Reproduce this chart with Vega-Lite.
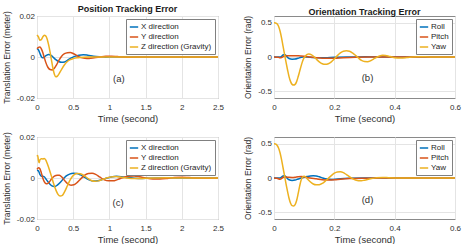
{
  "$schema": "https://vega.github.io/schema/vega-lite/v6.json",
  "background": "white",
  "padding": {"left": 1, "top": 4, "right": 2, "bottom": 0},
  "config": {
    "font": "Liberation Sans",
    "view": {"stroke": "#8a8a8a", "strokeWidth": 1},
    "axis": {"grid": true, "gridColor": "#e4e4e4", "gridWidth": 1, "domain": false, "ticks": false, "tickCount": 10, "labelFontSize": 8, "labelColor": "#303030", "titleFontSize": 9.5, "titleFontWeight": "normal", "titleColor": "#303030", "labelPadding": 2.5, "titlePadding": 5, "labelFlush": false, "labelOverlap": false, "labelExpr": "datum.value < 0 ? '-' + format(-datum.value, '~g') : format(datum.value, '~g')"},
    "axisX": {"labelPadding": 5, "titlePadding": 2},
    "axisY": {"titleFontSize": 8.5},
    "title": {"fontSize": 9, "fontWeight": "bold", "color": "#1a1a1a", "anchor": "middle", "frame": "group"},
    "legend": {"orient": "top-right", "offset": 3, "fillColor": "white", "strokeColor": "#808080", "padding": 3, "labelFontSize": 8, "labelColor": "#262626", "symbolType": "stroke", "symbolSize": 70, "symbolStrokeWidth": 2, "rowPadding": 1, "labelOffset": 2},
    "line": {"strokeWidth": 1.5, "interpolate": "monotone"}
  },
  "datasets": {
    "a": [
      {"t":0,"v":0.004,"s":"X direction"},{"t":0.02,"v":0.0035,"s":"X direction"},{"t":0.04,"v":0.0018,"s":"X direction"},{"t":0.06,"v":0.0002,"s":"X direction"},{"t":0.08,"v":-0.0004,"s":"X direction"},{"t":0.1,"v":0,"s":"X direction"},{"t":0.13,"v":0.0008,"s":"X direction"},{"t":0.16,"v":0.0012,"s":"X direction"},{"t":0.19,"v":0.0009,"s":"X direction"},{"t":0.22,"v":0,"s":"X direction"},{"t":0.26,"v":-0.0013,"s":"X direction"},{"t":0.3,"v":-0.0022,"s":"X direction"},{"t":0.34,"v":-0.0026,"s":"X direction"},{"t":0.38,"v":-0.0024,"s":"X direction"},{"t":0.42,"v":-0.0016,"s":"X direction"},{"t":0.46,"v":-0.0007,"s":"X direction"},{"t":0.52,"v":0.0003,"s":"X direction"},{"t":0.58,"v":0.0009,"s":"X direction"},{"t":0.64,"v":0.0011,"s":"X direction"},{"t":0.7,"v":0.0009,"s":"X direction"},{"t":0.78,"v":0.0004,"s":"X direction"},{"t":0.86,"v":0.0001,"s":"X direction"},{"t":0.95,"v":-0.0001,"s":"X direction"},{"t":1.05,"v":0,"s":"X direction"},{"t":1.2,"v":0,"s":"X direction"},{"t":2.5,"v":0,"s":"X direction"},
      {"t":0,"v":0.004,"s":"Y direction"},{"t":0.02,"v":0.0047,"s":"Y direction"},{"t":0.04,"v":0.0049,"s":"Y direction"},{"t":0.06,"v":0.004,"s":"Y direction"},{"t":0.08,"v":0.0022,"s":"Y direction"},{"t":0.1,"v":-0.0002,"s":"Y direction"},{"t":0.12,"v":-0.0025,"s":"Y direction"},{"t":0.15,"v":-0.005,"s":"Y direction"},{"t":0.18,"v":-0.0061,"s":"Y direction"},{"t":0.21,"v":-0.0063,"s":"Y direction"},{"t":0.24,"v":-0.0055,"s":"Y direction"},{"t":0.27,"v":-0.0038,"s":"Y direction"},{"t":0.3,"v":-0.0018,"s":"Y direction"},{"t":0.34,"v":0.0004,"s":"Y direction"},{"t":0.38,"v":0.0016,"s":"Y direction"},{"t":0.42,"v":0.0021,"s":"Y direction"},{"t":0.46,"v":0.0022,"s":"Y direction"},{"t":0.5,"v":0.0017,"s":"Y direction"},{"t":0.55,"v":0.0007,"s":"Y direction"},{"t":0.6,"v":-0.0002,"s":"Y direction"},{"t":0.66,"v":-0.0006,"s":"Y direction"},{"t":0.72,"v":-0.0007,"s":"Y direction"},{"t":0.79,"v":-0.0004,"s":"Y direction"},{"t":0.87,"v":0,"s":"Y direction"},{"t":0.95,"v":0.0004,"s":"Y direction"},{"t":1.03,"v":0.0004,"s":"Y direction"},{"t":1.11,"v":0.0002,"s":"Y direction"},{"t":1.2,"v":0,"s":"Y direction"},{"t":1.3,"v":-0.0001,"s":"Y direction"},{"t":1.45,"v":0,"s":"Y direction"},{"t":2.5,"v":0,"s":"Y direction"},
      {"t":0,"v":0.0107,"s":"Z direction (Gravity)"},{"t":0.02,"v":0.0098,"s":"Z direction (Gravity)"},{"t":0.04,"v":0.0082,"s":"Z direction (Gravity)"},{"t":0.06,"v":0.0085,"s":"Z direction (Gravity)"},{"t":0.08,"v":0.0098,"s":"Z direction (Gravity)"},{"t":0.1,"v":0.0106,"s":"Z direction (Gravity)"},{"t":0.12,"v":0.0103,"s":"Z direction (Gravity)"},{"t":0.14,"v":0.0088,"s":"Z direction (Gravity)"},{"t":0.16,"v":0.006,"s":"Z direction (Gravity)"},{"t":0.18,"v":0.0025,"s":"Z direction (Gravity)"},{"t":0.2,"v":-0.0015,"s":"Z direction (Gravity)"},{"t":0.22,"v":-0.0055,"s":"Z direction (Gravity)"},{"t":0.24,"v":-0.0084,"s":"Z direction (Gravity)"},{"t":0.26,"v":-0.0096,"s":"Z direction (Gravity)"},{"t":0.28,"v":-0.0094,"s":"Z direction (Gravity)"},{"t":0.3,"v":-0.0085,"s":"Z direction (Gravity)"},{"t":0.34,"v":-0.006,"s":"Z direction (Gravity)"},{"t":0.38,"v":-0.0038,"s":"Z direction (Gravity)"},{"t":0.42,"v":-0.0022,"s":"Z direction (Gravity)"},{"t":0.46,"v":-0.0013,"s":"Z direction (Gravity)"},{"t":0.5,"v":-0.0008,"s":"Z direction (Gravity)"},{"t":0.55,"v":-0.0004,"s":"Z direction (Gravity)"},{"t":0.6,"v":-0.0002,"s":"Z direction (Gravity)"},{"t":0.7,"v":0,"s":"Z direction (Gravity)"},{"t":1.0,"v":0,"s":"Z direction (Gravity)"},{"t":2.5,"v":0,"s":"Z direction (Gravity)"}
    ],
    "b": [
      {"t":0,"v":0,"s":"Roll"},{"t":0.02,"v":0,"s":"Roll"},{"t":0.025,"v":0.01,"s":"Roll"},{"t":0.03,"v":0.03,"s":"Roll"},{"t":0.035,"v":0.035,"s":"Roll"},{"t":0.04,"v":0.02,"s":"Roll"},{"t":0.045,"v":-0.005,"s":"Roll"},{"t":0.05,"v":-0.022,"s":"Roll"},{"t":0.06,"v":-0.032,"s":"Roll"},{"t":0.07,"v":-0.03,"s":"Roll"},{"t":0.08,"v":-0.018,"s":"Roll"},{"t":0.09,"v":-0.005,"s":"Roll"},{"t":0.1,"v":0.002,"s":"Roll"},{"t":0.11,"v":0,"s":"Roll"},{"t":0.13,"v":-0.008,"s":"Roll"},{"t":0.15,"v":-0.012,"s":"Roll"},{"t":0.17,"v":-0.01,"s":"Roll"},{"t":0.2,"v":-0.004,"s":"Roll"},{"t":0.25,"v":0,"s":"Roll"},{"t":0.3,"v":0.002,"s":"Roll"},{"t":0.4,"v":0,"s":"Roll"},{"t":0.6,"v":0,"s":"Roll"},
      {"t":0,"v":0,"s":"Pitch"},{"t":0.015,"v":-0.005,"s":"Pitch"},{"t":0.02,"v":-0.012,"s":"Pitch"},{"t":0.025,"v":-0.008,"s":"Pitch"},{"t":0.03,"v":0.005,"s":"Pitch"},{"t":0.04,"v":0.018,"s":"Pitch"},{"t":0.06,"v":0.02,"s":"Pitch"},{"t":0.08,"v":0.017,"s":"Pitch"},{"t":0.1,"v":0.01,"s":"Pitch"},{"t":0.12,"v":0,"s":"Pitch"},{"t":0.14,"v":-0.01,"s":"Pitch"},{"t":0.16,"v":-0.018,"s":"Pitch"},{"t":0.18,"v":-0.02,"s":"Pitch"},{"t":0.2,"v":-0.017,"s":"Pitch"},{"t":0.23,"v":-0.01,"s":"Pitch"},{"t":0.27,"v":-0.003,"s":"Pitch"},{"t":0.32,"v":0,"s":"Pitch"},{"t":0.6,"v":0,"s":"Pitch"},
      {"t":0,"v":0.5,"s":"Yaw"},{"t":0.005,"v":0.497,"s":"Yaw"},{"t":0.01,"v":0.485,"s":"Yaw"},{"t":0.015,"v":0.45,"s":"Yaw"},{"t":0.02,"v":0.38,"s":"Yaw"},{"t":0.025,"v":0.28,"s":"Yaw"},{"t":0.03,"v":0.16,"s":"Yaw"},{"t":0.035,"v":0.04,"s":"Yaw"},{"t":0.04,"v":-0.08,"s":"Yaw"},{"t":0.045,"v":-0.19,"s":"Yaw"},{"t":0.05,"v":-0.29,"s":"Yaw"},{"t":0.055,"v":-0.36,"s":"Yaw"},{"t":0.06,"v":-0.4,"s":"Yaw"},{"t":0.065,"v":-0.41,"s":"Yaw"},{"t":0.07,"v":-0.4,"s":"Yaw"},{"t":0.075,"v":-0.36,"s":"Yaw"},{"t":0.08,"v":-0.29,"s":"Yaw"},{"t":0.085,"v":-0.21,"s":"Yaw"},{"t":0.09,"v":-0.13,"s":"Yaw"},{"t":0.095,"v":-0.06,"s":"Yaw"},{"t":0.1,"v":-0.01,"s":"Yaw"},{"t":0.105,"v":0.02,"s":"Yaw"},{"t":0.11,"v":0.038,"s":"Yaw"},{"t":0.115,"v":0.043,"s":"Yaw"},{"t":0.12,"v":0.04,"s":"Yaw"},{"t":0.13,"v":0.015,"s":"Yaw"},{"t":0.14,"v":-0.03,"s":"Yaw"},{"t":0.15,"v":-0.07,"s":"Yaw"},{"t":0.16,"v":-0.098,"s":"Yaw"},{"t":0.17,"v":-0.107,"s":"Yaw"},{"t":0.18,"v":-0.098,"s":"Yaw"},{"t":0.19,"v":-0.07,"s":"Yaw"},{"t":0.2,"v":-0.03,"s":"Yaw"},{"t":0.21,"v":0.02,"s":"Yaw"},{"t":0.22,"v":0.06,"s":"Yaw"},{"t":0.23,"v":0.085,"s":"Yaw"},{"t":0.24,"v":0.092,"s":"Yaw"},{"t":0.25,"v":0.085,"s":"Yaw"},{"t":0.26,"v":0.06,"s":"Yaw"},{"t":0.27,"v":0.025,"s":"Yaw"},{"t":0.28,"v":-0.015,"s":"Yaw"},{"t":0.29,"v":-0.05,"s":"Yaw"},{"t":0.3,"v":-0.066,"s":"Yaw"},{"t":0.31,"v":-0.068,"s":"Yaw"},{"t":0.32,"v":-0.055,"s":"Yaw"},{"t":0.33,"v":-0.03,"s":"Yaw"},{"t":0.34,"v":-0.005,"s":"Yaw"},{"t":0.35,"v":0.015,"s":"Yaw"},{"t":0.36,"v":0.025,"s":"Yaw"},{"t":0.37,"v":0.022,"s":"Yaw"},{"t":0.38,"v":0.012,"s":"Yaw"},{"t":0.39,"v":0,"s":"Yaw"},{"t":0.4,"v":-0.01,"s":"Yaw"},{"t":0.42,"v":-0.013,"s":"Yaw"},{"t":0.44,"v":-0.008,"s":"Yaw"},{"t":0.46,"v":0,"s":"Yaw"},{"t":0.48,"v":0.004,"s":"Yaw"},{"t":0.5,"v":0.003,"s":"Yaw"},{"t":0.55,"v":0,"s":"Yaw"},{"t":0.6,"v":0,"s":"Yaw"}
    ],
    "c": [
      {"t":0,"v":0.0038,"s":"X direction"},{"t":0.02,"v":0.0035,"s":"X direction"},{"t":0.04,"v":0.0018,"s":"X direction"},{"t":0.06,"v":0.0008,"s":"X direction"},{"t":0.08,"v":0.0009,"s":"X direction"},{"t":0.1,"v":0.0006,"s":"X direction"},{"t":0.13,"v":-0.0008,"s":"X direction"},{"t":0.16,"v":-0.0022,"s":"X direction"},{"t":0.19,"v":-0.0034,"s":"X direction"},{"t":0.22,"v":-0.004,"s":"X direction"},{"t":0.25,"v":-0.0041,"s":"X direction"},{"t":0.28,"v":-0.0035,"s":"X direction"},{"t":0.32,"v":-0.0022,"s":"X direction"},{"t":0.36,"v":-0.0006,"s":"X direction"},{"t":0.4,"v":0.0009,"s":"X direction"},{"t":0.45,"v":0.0019,"s":"X direction"},{"t":0.5,"v":0.0023,"s":"X direction"},{"t":0.55,"v":0.0022,"s":"X direction"},{"t":0.6,"v":0.0015,"s":"X direction"},{"t":0.66,"v":0.0003,"s":"X direction"},{"t":0.72,"v":-0.0009,"s":"X direction"},{"t":0.78,"v":-0.0015,"s":"X direction"},{"t":0.84,"v":-0.0014,"s":"X direction"},{"t":0.9,"v":-0.0008,"s":"X direction"},{"t":0.97,"v":0,"s":"X direction"},{"t":1.04,"v":0.0006,"s":"X direction"},{"t":1.1,"v":0.0008,"s":"X direction"},{"t":1.17,"v":0.0006,"s":"X direction"},{"t":1.25,"v":0.0002,"s":"X direction"},{"t":1.35,"v":-0.0001,"s":"X direction"},{"t":1.45,"v":-0.0002,"s":"X direction"},{"t":1.55,"v":-0.0001,"s":"X direction"},{"t":1.7,"v":0,"s":"X direction"},{"t":1.85,"v":0.0001,"s":"X direction"},{"t":2.0,"v":0,"s":"X direction"},{"t":2.5,"v":0,"s":"X direction"},
      {"t":0,"v":0.0042,"s":"Y direction"},{"t":0.02,"v":0.005,"s":"Y direction"},{"t":0.04,"v":0.0045,"s":"Y direction"},{"t":0.06,"v":0.0025,"s":"Y direction"},{"t":0.08,"v":0,"s":"Y direction"},{"t":0.1,"v":-0.0018,"s":"Y direction"},{"t":0.12,"v":-0.0027,"s":"Y direction"},{"t":0.14,"v":-0.0028,"s":"Y direction"},{"t":0.17,"v":-0.002,"s":"Y direction"},{"t":0.2,"v":-0.0005,"s":"Y direction"},{"t":0.24,"v":0.0009,"s":"Y direction"},{"t":0.28,"v":0.0014,"s":"Y direction"},{"t":0.31,"v":0.0013,"s":"Y direction"},{"t":0.35,"v":0.0002,"s":"Y direction"},{"t":0.39,"v":-0.0016,"s":"Y direction"},{"t":0.43,"v":-0.003,"s":"Y direction"},{"t":0.47,"v":-0.0035,"s":"Y direction"},{"t":0.51,"v":-0.0033,"s":"Y direction"},{"t":0.56,"v":-0.002,"s":"Y direction"},{"t":0.61,"v":-0.0002,"s":"Y direction"},{"t":0.66,"v":0.0014,"s":"Y direction"},{"t":0.71,"v":0.0022,"s":"Y direction"},{"t":0.76,"v":0.0023,"s":"Y direction"},{"t":0.81,"v":0.0018,"s":"Y direction"},{"t":0.87,"v":0.0004,"s":"Y direction"},{"t":0.93,"v":-0.0009,"s":"Y direction"},{"t":0.99,"v":-0.0014,"s":"Y direction"},{"t":1.05,"v":-0.0014,"s":"Y direction"},{"t":1.11,"v":-0.0008,"s":"Y direction"},{"t":1.18,"v":0.0001,"s":"Y direction"},{"t":1.26,"v":0.0008,"s":"Y direction"},{"t":1.34,"v":0.001,"s":"Y direction"},{"t":1.42,"v":0.0006,"s":"Y direction"},{"t":1.5,"v":0,"s":"Y direction"},{"t":1.6,"v":-0.0005,"s":"Y direction"},{"t":1.7,"v":-0.0005,"s":"Y direction"},{"t":1.8,"v":-0.0002,"s":"Y direction"},{"t":1.9,"v":0.0003,"s":"Y direction"},{"t":2.0,"v":0.0004,"s":"Y direction"},{"t":2.1,"v":0.0002,"s":"Y direction"},{"t":2.2,"v":0,"s":"Y direction"},{"t":2.35,"v":-0.0001,"s":"Y direction"},{"t":2.5,"v":0,"s":"Y direction"},
      {"t":0,"v":0.0106,"s":"Z direction (Gravity)"},{"t":0.01,"v":0.011,"s":"Z direction (Gravity)"},{"t":0.02,"v":0.0085,"s":"Z direction (Gravity)"},{"t":0.03,"v":0.0075,"s":"Z direction (Gravity)"},{"t":0.04,"v":0.0088,"s":"Z direction (Gravity)"},{"t":0.06,"v":0.0094,"s":"Z direction (Gravity)"},{"t":0.08,"v":0.0093,"s":"Z direction (Gravity)"},{"t":0.1,"v":0.0095,"s":"Z direction (Gravity)"},{"t":0.12,"v":0.0088,"s":"Z direction (Gravity)"},{"t":0.14,"v":0.0072,"s":"Z direction (Gravity)"},{"t":0.17,"v":0.0042,"s":"Z direction (Gravity)"},{"t":0.2,"v":0.0008,"s":"Z direction (Gravity)"},{"t":0.23,"v":-0.0028,"s":"Z direction (Gravity)"},{"t":0.26,"v":-0.0058,"s":"Z direction (Gravity)"},{"t":0.29,"v":-0.008,"s":"Z direction (Gravity)"},{"t":0.32,"v":-0.0088,"s":"Z direction (Gravity)"},{"t":0.35,"v":-0.0085,"s":"Z direction (Gravity)"},{"t":0.38,"v":-0.0068,"s":"Z direction (Gravity)"},{"t":0.42,"v":-0.0038,"s":"Z direction (Gravity)"},{"t":0.46,"v":-0.0008,"s":"Z direction (Gravity)"},{"t":0.5,"v":0.0012,"s":"Z direction (Gravity)"},{"t":0.55,"v":0.0022,"s":"Z direction (Gravity)"},{"t":0.6,"v":0.0021,"s":"Z direction (Gravity)"},{"t":0.65,"v":0.0012,"s":"Z direction (Gravity)"},{"t":0.7,"v":-0.0002,"s":"Z direction (Gravity)"},{"t":0.75,"v":-0.0012,"s":"Z direction (Gravity)"},{"t":0.8,"v":-0.0016,"s":"Z direction (Gravity)"},{"t":0.85,"v":-0.0014,"s":"Z direction (Gravity)"},{"t":0.9,"v":-0.0008,"s":"Z direction (Gravity)"},{"t":0.96,"v":0,"s":"Z direction (Gravity)"},{"t":1.02,"v":0.0005,"s":"Z direction (Gravity)"},{"t":1.08,"v":0.0007,"s":"Z direction (Gravity)"},{"t":1.15,"v":0.0005,"s":"Z direction (Gravity)"},{"t":1.22,"v":0.0001,"s":"Z direction (Gravity)"},{"t":1.3,"v":-0.0002,"s":"Z direction (Gravity)"},{"t":1.4,"v":-0.0003,"s":"Z direction (Gravity)"},{"t":1.5,"v":-0.0001,"s":"Z direction (Gravity)"},{"t":1.6,"v":0,"s":"Z direction (Gravity)"},{"t":1.8,"v":0.0001,"s":"Z direction (Gravity)"},{"t":2.0,"v":0,"s":"Z direction (Gravity)"},{"t":2.5,"v":0,"s":"Z direction (Gravity)"}
    ],
    "d": [
      {"t":0,"v":0,"s":"Roll"},{"t":0.02,"v":0,"s":"Roll"},{"t":0.025,"v":0.012,"s":"Roll"},{"t":0.03,"v":0.03,"s":"Roll"},{"t":0.035,"v":0.033,"s":"Roll"},{"t":0.04,"v":0.015,"s":"Roll"},{"t":0.045,"v":-0.01,"s":"Roll"},{"t":0.05,"v":-0.025,"s":"Roll"},{"t":0.06,"v":-0.035,"s":"Roll"},{"t":0.07,"v":-0.03,"s":"Roll"},{"t":0.08,"v":-0.015,"s":"Roll"},{"t":0.09,"v":0,"s":"Roll"},{"t":0.1,"v":0.012,"s":"Roll"},{"t":0.11,"v":0.022,"s":"Roll"},{"t":0.12,"v":0.03,"s":"Roll"},{"t":0.13,"v":0.033,"s":"Roll"},{"t":0.14,"v":0.03,"s":"Roll"},{"t":0.15,"v":0.018,"s":"Roll"},{"t":0.16,"v":0.002,"s":"Roll"},{"t":0.17,"v":-0.012,"s":"Roll"},{"t":0.18,"v":-0.02,"s":"Roll"},{"t":0.19,"v":-0.022,"s":"Roll"},{"t":0.2,"v":-0.02,"s":"Roll"},{"t":0.22,"v":-0.012,"s":"Roll"},{"t":0.25,"v":-0.005,"s":"Roll"},{"t":0.3,"v":0,"s":"Roll"},{"t":0.6,"v":0,"s":"Roll"},
      {"t":0,"v":0,"s":"Pitch"},{"t":0.01,"v":-0.005,"s":"Pitch"},{"t":0.02,"v":-0.018,"s":"Pitch"},{"t":0.025,"v":-0.01,"s":"Pitch"},{"t":0.03,"v":0.01,"s":"Pitch"},{"t":0.04,"v":0.015,"s":"Pitch"},{"t":0.05,"v":0.01,"s":"Pitch"},{"t":0.06,"v":0.008,"s":"Pitch"},{"t":0.07,"v":0.012,"s":"Pitch"},{"t":0.08,"v":0.02,"s":"Pitch"},{"t":0.09,"v":0.022,"s":"Pitch"},{"t":0.1,"v":0.018,"s":"Pitch"},{"t":0.11,"v":0.008,"s":"Pitch"},{"t":0.12,"v":0,"s":"Pitch"},{"t":0.14,"v":-0.012,"s":"Pitch"},{"t":0.16,"v":-0.025,"s":"Pitch"},{"t":0.18,"v":-0.03,"s":"Pitch"},{"t":0.2,"v":-0.027,"s":"Pitch"},{"t":0.22,"v":-0.018,"s":"Pitch"},{"t":0.25,"v":-0.008,"s":"Pitch"},{"t":0.3,"v":-0.002,"s":"Pitch"},{"t":0.35,"v":0,"s":"Pitch"},{"t":0.6,"v":0,"s":"Pitch"},
      {"t":0,"v":0.5,"s":"Yaw"},{"t":0.005,"v":0.497,"s":"Yaw"},{"t":0.01,"v":0.48,"s":"Yaw"},{"t":0.015,"v":0.44,"s":"Yaw"},{"t":0.02,"v":0.37,"s":"Yaw"},{"t":0.025,"v":0.27,"s":"Yaw"},{"t":0.03,"v":0.15,"s":"Yaw"},{"t":0.035,"v":0.03,"s":"Yaw"},{"t":0.04,"v":-0.09,"s":"Yaw"},{"t":0.045,"v":-0.2,"s":"Yaw"},{"t":0.05,"v":-0.3,"s":"Yaw"},{"t":0.055,"v":-0.37,"s":"Yaw"},{"t":0.06,"v":-0.405,"s":"Yaw"},{"t":0.065,"v":-0.41,"s":"Yaw"},{"t":0.07,"v":-0.39,"s":"Yaw"},{"t":0.075,"v":-0.33,"s":"Yaw"},{"t":0.08,"v":-0.23,"s":"Yaw"},{"t":0.085,"v":-0.12,"s":"Yaw"},{"t":0.09,"v":-0.03,"s":"Yaw"},{"t":0.095,"v":0.015,"s":"Yaw"},{"t":0.1,"v":0.025,"s":"Yaw"},{"t":0.105,"v":0.015,"s":"Yaw"},{"t":0.11,"v":-0.01,"s":"Yaw"},{"t":0.12,"v":-0.055,"s":"Yaw"},{"t":0.13,"v":-0.088,"s":"Yaw"},{"t":0.14,"v":-0.1,"s":"Yaw"},{"t":0.15,"v":-0.098,"s":"Yaw"},{"t":0.16,"v":-0.08,"s":"Yaw"},{"t":0.17,"v":-0.045,"s":"Yaw"},{"t":0.18,"v":-0.005,"s":"Yaw"},{"t":0.19,"v":0.035,"s":"Yaw"},{"t":0.2,"v":0.07,"s":"Yaw"},{"t":0.21,"v":0.088,"s":"Yaw"},{"t":0.22,"v":0.09,"s":"Yaw"},{"t":0.23,"v":0.078,"s":"Yaw"},{"t":0.24,"v":0.05,"s":"Yaw"},{"t":0.25,"v":0.02,"s":"Yaw"},{"t":0.26,"v":-0.01,"s":"Yaw"},{"t":0.27,"v":-0.03,"s":"Yaw"},{"t":0.28,"v":-0.04,"s":"Yaw"},{"t":0.29,"v":-0.04,"s":"Yaw"},{"t":0.3,"v":-0.032,"s":"Yaw"},{"t":0.32,"v":-0.012,"s":"Yaw"},{"t":0.34,"v":0.003,"s":"Yaw"},{"t":0.36,"v":0.008,"s":"Yaw"},{"t":0.38,"v":0.004,"s":"Yaw"},{"t":0.42,"v":0,"s":"Yaw"},{"t":0.6,"v":0,"s":"Yaw"}
    ]
  },
  "columns": 2,
  "spacing": {"row": 39, "column": 56},
  "bounds": "flush",
  "resolve": {"scale": {"color": "independent", "x": "independent", "y": "independent"}, "legend": {"color": "independent"}, "axis": {"x": "independent", "y": "independent"}},
  "concat": [
    {
      "width": 181, "height": 82,
      "title": {"text": "Position Tracking Error", "offset": -3.5},
      "layer": [
        {"data": {"name": "a"}, "mark": {"type": "line"},
         "encoding": {
           "x": {"field": "t", "type": "quantitative", "scale": {"domain": [0, 2.5], "nice": false}, "axis": {"values": [0, 0.5, 1, 1.5, 2, 2.5], "tickCount": 10, "title": "Time (second)"}},
           "y": {"field": "v", "type": "quantitative", "scale": {"domain": [-0.02, 0.02], "nice": false}, "axis": {"values": [-0.02, 0, 0.02], "title": "Translation Error (meter)"}},
           "color": {"field": "s", "type": "nominal", "scale": {"domain": ["X direction", "Y direction", "Z direction (Gravity)"], "range": ["#0072BD", "#D95319", "#EDB120"]}, "legend": {"title": null}}
         }},
        {"data": {"values": [{"t": 1.13, "v": -0.0105, "label": "(a)"}]}, "mark": {"type": "text", "fontSize": 9.5, "color": "#303030"},
         "encoding": {"x": {"field": "t", "type": "quantitative"}, "y": {"field": "v", "type": "quantitative"}, "text": {"field": "label"}}}
      ]
    },
    {
      "width": 181, "height": 82,
      "title": {"text": "Orientation Tracking Error", "offset": -1.5},
      "layer": [
        {"data": {"name": "b"}, "mark": {"type": "line"},
         "encoding": {
           "x": {"field": "t", "type": "quantitative", "scale": {"domain": [0, 0.6], "nice": false}, "axis": {"values": [0, 0.2, 0.4, 0.6], "tickCount": 10, "title": "Time (second)"}},
           "y": {"field": "v", "type": "quantitative", "scale": {"domain": [-0.6, 0.6], "nice": false}, "axis": {"values": [-0.5, 0, 0.5], "title": "Orientation Error (rad)"}},
           "color": {"field": "s", "type": "nominal", "scale": {"domain": ["Roll", "Pitch", "Yaw"], "range": ["#0072BD", "#D95319", "#EDB120"]}, "legend": {"title": null}}
         }},
        {"data": {"values": [{"t": 0.31, "v": -0.31, "label": "(b)"}]}, "mark": {"type": "text", "fontSize": 9.5, "color": "#303030"},
         "encoding": {"x": {"field": "t", "type": "quantitative"}, "y": {"field": "v", "type": "quantitative"}, "text": {"field": "label"}}}
      ]
    },
    {
      "width": 181, "height": 82,
      "layer": [
        {"data": {"name": "c"}, "mark": {"type": "line"},
         "encoding": {
           "x": {"field": "t", "type": "quantitative", "scale": {"domain": [0, 2.5], "nice": false}, "axis": {"values": [0, 0.5, 1, 1.5, 2, 2.5], "tickCount": 10, "title": "Time (second)"}},
           "y": {"field": "v", "type": "quantitative", "scale": {"domain": [-0.02, 0.02], "nice": false}, "axis": {"values": [-0.02, 0, 0.02], "title": "Translation Error (meter)"}},
           "color": {"field": "s", "type": "nominal", "scale": {"domain": ["X direction", "Y direction", "Z direction (Gravity)"], "range": ["#0072BD", "#D95319", "#EDB120"]}, "legend": {"title": null}}
         }},
        {"data": {"values": [{"t": 1.12, "v": -0.012, "label": "(c)"}]}, "mark": {"type": "text", "fontSize": 9.5, "color": "#303030"},
         "encoding": {"x": {"field": "t", "type": "quantitative"}, "y": {"field": "v", "type": "quantitative"}, "text": {"field": "label"}}}
      ]
    },
    {
      "width": 181, "height": 82,
      "layer": [
        {"data": {"name": "d"}, "mark": {"type": "line"},
         "encoding": {
           "x": {"field": "t", "type": "quantitative", "scale": {"domain": [0, 0.6], "nice": false}, "axis": {"values": [0, 0.2, 0.4, 0.6], "tickCount": 10, "title": "Time (second)"}},
           "y": {"field": "v", "type": "quantitative", "scale": {"domain": [-0.6, 0.6], "nice": false}, "axis": {"values": [-0.5, 0, 0.5], "title": "Orientation Error (rad)"}},
           "color": {"field": "s", "type": "nominal", "scale": {"domain": ["Roll", "Pitch", "Yaw"], "range": ["#0072BD", "#D95319", "#EDB120"]}, "legend": {"title": null}}
         }},
        {"data": {"values": [{"t": 0.31, "v": -0.32, "label": "(d)"}]}, "mark": {"type": "text", "fontSize": 9.5, "color": "#303030"},
         "encoding": {"x": {"field": "t", "type": "quantitative"}, "y": {"field": "v", "type": "quantitative"}, "text": {"field": "label"}}}
      ]
    }
  ]
}
